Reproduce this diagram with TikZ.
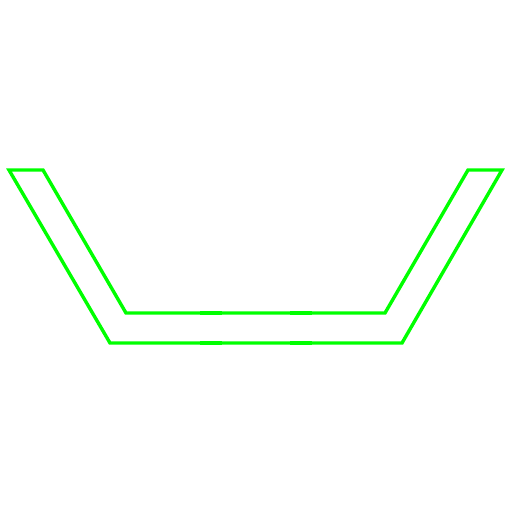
\documentclass[tikz,border=0pt]{standalone}
\definecolor{outlinegreen}{RGB}{0,255,0}
\begin{document}
\begin{tikzpicture}[x=1pt,y=-1pt,
  outline/.style={draw=outlinegreen,line width=3.4pt,line join=miter}]
\useasboundingbox (0,0) rectangle (513,513);
\coordinate (a) at (9,170);
\coordinate (b) at (43,170);
\coordinate (c) at (126,313);
\coordinate (d) at (385,313);
\coordinate (e) at (468,170);
\coordinate (f) at (502,170);
\coordinate (g) at (402,343);
\coordinate (h) at (110,343);
\draw[outline] (a) -- (b) -- (c) -- (d) -- (e) -- (f) -- (g) -- (h) -- cycle;
% slightly heavier joints on the bottom bars
\draw[outline] (200,313) -- (222,313);
\draw[outline] (290,313) -- (312,313);
\draw[outline] (200,343) -- (222,343);
\draw[outline] (290,343) -- (312,343);
\end{tikzpicture}
\end{document}
